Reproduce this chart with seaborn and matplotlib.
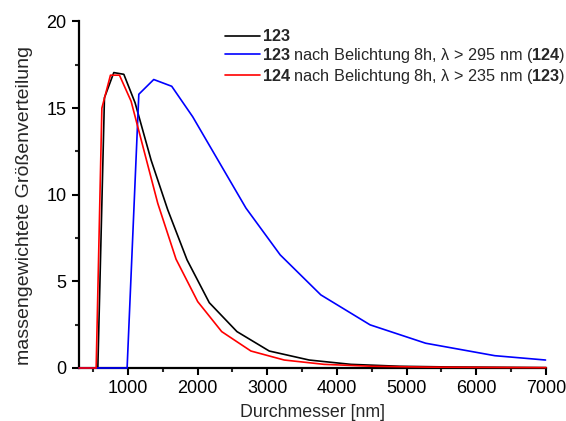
import pandas as pd
import seaborn as sns
import matplotlib.pyplot as plt
from matplotlib.ticker import MultipleLocator

# Durchmesser [nm] und massengewichtete Verteilung
x_123 = [300, 570, 665, 799, 943, 1105, 1334, 1573, 1850, 2169, 2566, 3029, 3602, 4202, 4900, 5600, 7000]
y_123 = [0, 0, 15.6, 17.05, 16.95, 15.3, 12.0, 9.13, 6.24, 3.77, 2.10, 0.98, 0.46, 0.21, 0.10, 0.06, 0.02]

x_124 = [300, 990, 1158, 1372, 1630, 1931, 2695, 3186, 3769, 4476, 5273, 6266, 6993]
y_124 = [0, 0, 15.8, 16.65, 16.26, 14.5, 9.23, 6.53, 4.22, 2.49, 1.43, 0.71, 0.46]

x_back = [300, 546, 628, 751, 880, 1047, 1430, 1692, 2003, 2347, 2766, 3244, 3817, 4500, 5300, 7000]
y_back = [0, 0, 15.0, 16.9, 16.9, 15.4, 9.5, 6.28, 3.83, 2.10, 0.98, 0.46, 0.21, 0.10, 0.05, 0.02]

labels = [
    r"$\mathbf{123}$",
    r"$\mathbf{123}$ nach Belichtung 8h, λ > 295 nm ($\mathbf{124}$)",
    r"$\mathbf{124}$ nach Belichtung 8h, λ > 235 nm ($\mathbf{123}$)",
]
colors = ["black", "blue", "red"]

frames = []
for lab, xs, ys in zip(labels, [x_123, x_124, x_back], [y_123, y_124, y_back]):
    frames.append(pd.DataFrame({"d": xs, "w": ys, "probe": lab}))
df = pd.concat(frames, ignore_index=True)

sns.set_style("ticks")
plt.rcParams["font.family"] = ["Liberation Sans", "DejaVu Sans"]
plt.rcParams["mathtext.fontset"] = "custom"
plt.rcParams["mathtext.rm"] = "Liberation Sans"
plt.rcParams["mathtext.bf"] = "Liberation Sans:bold"

fig = plt.figure(figsize=(5.66, 4.21), dpi=100)
ax = fig.add_axes([0.1396, 0.1259, 0.8251, 0.8231])

sns.lineplot(data=df, x="d", y="w", hue="probe", palette=colors, sort=False,
             estimator=None, linewidth=1.2, ax=ax, zorder=5, clip_on=False)

ax.set_xlim(300, 7000)
ax.set_ylim(0, 20)
ax.xaxis.set_major_locator(MultipleLocator(1000))
ax.xaxis.set_minor_locator(MultipleLocator(500))
ax.yaxis.set_major_locator(MultipleLocator(5))
ax.yaxis.set_minor_locator(MultipleLocator(2.5))
ax.tick_params(which="major", length=5, width=1.5, labelsize=13, pad=4, colors="black")
ax.tick_params(which="minor", length=3, width=1.5)
sns.despine(ax=ax)
for s in ["left", "bottom"]:
    ax.spines[s].set_linewidth(1.6)
    ax.spines[s].set_color("black")

ax.set_xlabel("Durchmesser [nm]", fontsize=12.8)
ax.set_ylabel("massengewichtete Größenverteilung", fontsize=14)
ax.xaxis.set_label_coords(0.5, -0.104)
ax.yaxis.set_label_coords(-0.098, 0.47)

ax.legend(frameon=False, loc="upper left", bbox_to_anchor=(0.3126, 0.98),
          fontsize=11.7, handlelength=2.15, handletextpad=0.15, labelspacing=0.1,
          borderaxespad=0, borderpad=0)

fig.savefig("out.png", dpi=100)
